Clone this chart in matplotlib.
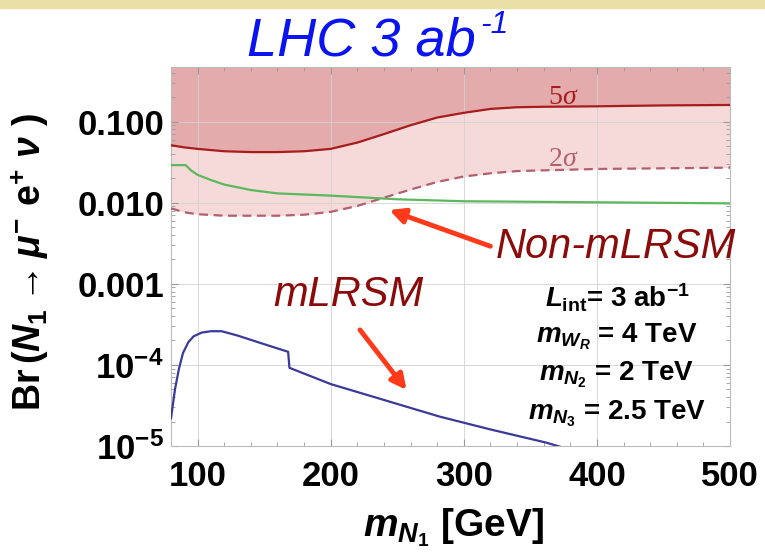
import matplotlib.pyplot as plt
from matplotlib.patches import Rectangle

# data
x_5s = [80, 90, 100, 120, 140, 160, 180, 200, 220, 240, 260, 280, 300, 320, 340, 360, 400, 450, 500]
y_5s = [0.051, 0.048, 0.046, 0.043, 0.042, 0.042, 0.043, 0.046, 0.055, 0.070, 0.090, 0.112,
        0.128, 0.143, 0.150, 0.152, 0.154, 0.158, 0.160]

x_2s = [80, 90, 100, 120, 160, 180, 200, 220, 240, 260, 280, 300, 320, 340, 360, 400, 500]
y_2s = [0.0085, 0.0076, 0.0072, 0.0069, 0.0069, 0.0071, 0.0077, 0.0091, 0.0115, 0.0145,
        0.018, 0.021, 0.023, 0.0245, 0.025, 0.026, 0.027]

x_non = [80, 91, 95, 100, 110, 120, 140, 160, 200, 250, 300, 400, 500]
y_non = [0.029, 0.029, 0.025, 0.022, 0.019, 0.0167, 0.0143, 0.013, 0.0122, 0.011, 0.0104,
         0.0101, 0.0098]

x_lr = [80, 83, 86, 89, 93, 97, 103, 110, 118, 130, 150, 168, 169, 200, 250, 282, 320, 362, 375]
y_lr = [2.2e-5, 5e-5, 9e-5, 1.4e-4, 1.9e-4, 2.25e-4, 2.5e-4, 2.6e-4, 2.6e-4, 2.3e-4, 1.8e-4,
        1.45e-4, 9.2e-5, 5.8e-5, 3.3e-5, 2.3e-5, 1.6e-5, 1.1e-5, 9.5e-6]

yticks = [1e-5, 1e-4, 1e-3, 1e-2, 1e-1]
ytick_labels = [r"$\mathrm{10^{-5}}$", r"$\mathrm{10^{-4}}$", "0.001", "0.010", "0.100"]
xticks = [100, 200, 300, 400, 500]

plt.rcParams['font.family'] = ['Liberation Sans', 'DejaVu Sans']
plt.rcParams['mathtext.fontset'] = 'custom'
plt.rcParams['mathtext.rm'] = 'Liberation Sans:bold'
plt.rcParams['mathtext.it'] = 'Liberation Sans:bold:italic'
plt.rcParams['mathtext.bf'] = 'Liberation Sans:bold'

fig = plt.figure(figsize=(7.65, 5.59), dpi=100)
fig.patches.append(Rectangle((0, 1 - 8 / 559), 1, 8 / 559, transform=fig.transFigure,
                             color='#EADFA6', zorder=0))
ax = fig.add_axes([171 / 765, 1 - 446 / 559, (730 - 171) / 765, (446 - 67) / 559])

ytop = 0.47
ax.fill_between(x_2s, y_2s, ytop, color='#F6D9D9', lw=0, zorder=1)
ax.fill_between(x_5s, y_5s, ytop, color='#E3ABAB', lw=0, zorder=1)

ax.plot(x_5s, y_5s, color='#A81C1C', lw=1.6, zorder=3)
ax.plot(x_2s, y_2s, color='#B0606E', lw=1.6, ls=(0, (4, 2.5)), zorder=3)
ax.plot(x_non, y_non, color='#5CB85C', lw=1.6, zorder=3)
ax.plot(x_lr, y_lr, color='#3A3A9A', lw=1.6, zorder=3)

ax.set_yscale('log')
ax.set_xlim(80, 500)
ax.set_ylim(1e-5, ytop)
ax.set_yticks(yticks)
ax.set_yticklabels(ytick_labels)
ax.set_xticks(xticks)
ax.set_xticks(range(80, 501, 20), minor=True)
ax.tick_params(axis='both', which='both', direction='in', top=True, right=True,
               color='#999999', labelsize=25)
ax.tick_params(axis='x', pad=10)
ax.tick_params(axis='y', pad=5)
ax.tick_params(which='major', length=5)
ax.tick_params(which='minor', length=3)
for lab in ax.get_xticklabels() + ax.get_yticklabels():
    lab.set_fontweight('bold')
for s in ax.spines.values():
    s.set_color('#BBBBBB')
    s.set_linewidth(0.8)
ax.grid(True, which='major', color='#D2D2D2', lw=0.6, zorder=2)

ax.set_xlabel(r"$m_{N_1}$ [GeV]", fontsize=28, fontweight='bold')
ax.xaxis.set_label_coords(0.505, -0.16)
ax.set_ylabel(r"Br$\,(N_1 \rightarrow \mu^{-}\ \mathrm{e}^{+}\ \nu\ )$", fontsize=27,
              fontweight='bold')
ax.yaxis.set_label_coords(-0.215, 0.485)

fig.text(361 / 765, 1 - 41 / 559, "LHC 3 ab", color='#0A14F0',
         fontsize=39, style='italic', ha='center', va='center')
fig.text(480 / 765, 1 - 25 / 559, "-1", color='#0A14F0',
         fontsize=23, style='italic', ha='left', va='center')

ax.text(374, 0.2, "5", color='#A81C1C', fontsize=20, ha='right', va='center',
        family='Liberation Serif', zorder=4)
ax.text(374, 0.2, "σ", color='#A81C1C', fontsize=20, ha='left', va='center',
        family='Liberation Serif', style='italic', zorder=4)
ax.text(374, 0.0336, "2", color='#B0606E', fontsize=20, ha='right', va='center',
        family='Liberation Serif', zorder=4)
ax.text(374, 0.0336, "σ", color='#B0606E', fontsize=20, ha='left', va='center',
        family='Liberation Serif', style='italic', zorder=4)

arrow = dict(arrowstyle='-|>,head_length=0.9,head_width=0.45', color='#FF3A1A', lw=3.5,
             shrinkA=0, shrinkB=0)
ax.annotate("", xy=(244, 8.1e-3), xytext=(320, 2.9e-3), arrowprops=arrow, zorder=5)
ax.text(414, 2.85e-3, "Non-mLRSM", color='#8B0A0A', fontsize=30, style='italic',
        ha='center', va='center', zorder=5)
ax.annotate("", xy=(257, 4.9e-5), xytext=(222, 2.7e-4), arrowprops=arrow, zorder=5)
ax.text(213, 7.3e-4, "mLRSM", color='#8B0A0A', fontsize=30, style='italic',
        ha='center', va='center', zorder=5)

info = [r"$L_{\mathregular{int}}$= 3 ab$^{\mathregular{-1}}$",
        r"$m_{W_R}$ = 4 TeV",
        r"$m_{N_2}$ = 2 TeV",
        r"$m_{N_3}$ = 2.5 TeV"]
for i, t in enumerate(info):
    fig.text(617 / 765, 1 - (298 + 38.5 * i) / 559, t, fontsize=20, fontweight='bold',
             ha='center', va='center')

fig.savefig("out.png", dpi=100)
